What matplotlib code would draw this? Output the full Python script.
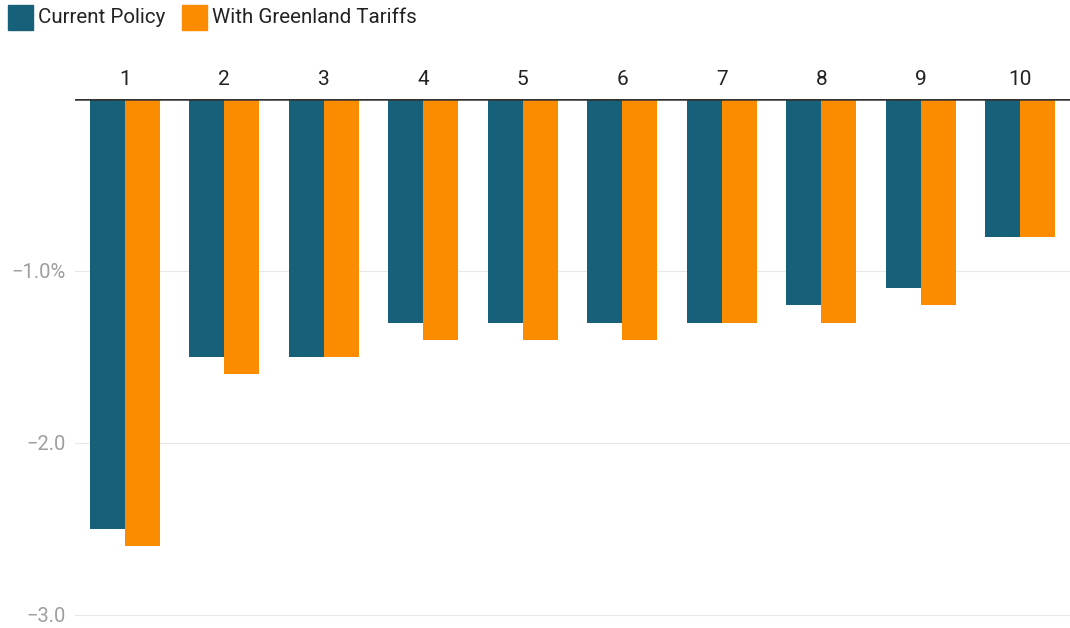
import numpy as np
import matplotlib.pyplot as plt
from matplotlib.patches import Rectangle

plt.rcParams['font.family'] = ['Roboto', 'DejaVu Sans']

deciles = ["1", "2", "3", "4", "5", "6", "7", "8", "9", "10"]
current_policy = [-2.5, -1.5, -1.5, -1.3, -1.3, -1.3, -1.3, -1.2, -1.1, -0.8]
greenland_tariffs = [-2.6, -1.6, -1.5, -1.4, -1.4, -1.4, -1.3, -1.3, -1.2, -0.8]
ytick_vals = [-1.0, -2.0, -3.0]
ytick_labels = ["\u22121.0%", "\u22122.0", "\u22123.0"]
series_names = ["Current Policy", "With Greenland Tariffs"]

teal = "#17607a"
orange = "#fb8c00"

W, H = 1070, 628
fig = plt.figure(figsize=(W / 100, H / 100), dpi=100)
ax = fig.add_axes([75 / W, 13 / H, 995 / W, (615 - 99) / H])

x = np.arange(len(deciles))
w = 0.35
ax.bar(x - w / 2, current_policy, width=w, color=teal, zorder=2)
ax.bar(x + w / 2, greenland_tariffs, width=w, color=orange, zorder=2)

ax.set_xlim(-0.5, len(deciles) - 0.5)
ax.set_ylim(-3.0, 0)

# gridlines + zero line
for v in ytick_vals:
    ax.axhline(v, color="#e8e8e8", lw=0.8, zorder=1, clip_on=False)
ax.axhline(0, color="#333333", lw=1.8, zorder=3)

ax.set_yticks(ytick_vals)
ax.set_yticklabels(ytick_labels, color="#9e9e9e", fontsize=14.5)
ax.tick_params(axis="y", length=0, pad=7)

ax.xaxis.tick_top()
ax.set_xticks(x)
ax.set_xticklabels(deciles, fontsize=15, color="#222222")
ax.tick_params(axis="x", length=0, pad=7.5)

for s in ax.spines.values():
    s.set_visible(False)

# legend, drawn by hand
legend_x = [8, 182]
for lx, name, col in zip(legend_x, series_names, [teal, orange]):
    fig.patches.append(Rectangle((lx / W, 1 - 30 / H), 25 / W, 25 / H,
                                 transform=fig.transFigure, color=col))
    fig.text((lx + 30) / W, 1 - 17.5 / H, name, fontsize=14.8,
             color="#222222", va="center", ha="left")

fig.savefig("out.png", dpi=100)
